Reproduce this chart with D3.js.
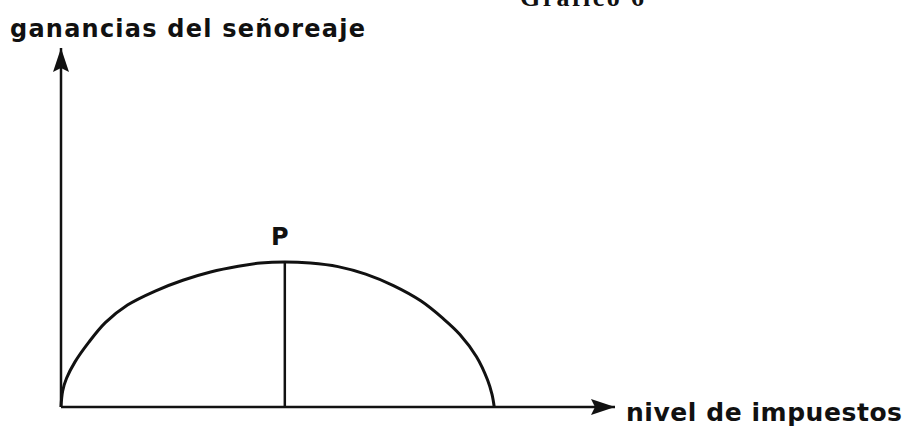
<!DOCTYPE html>
<html>
<head>
<meta charset="utf-8">
<script src="https://cdn.jsdelivr.net/npm/d3@7"></script>
<style>
  body { margin: 0; background: #fff; }
  text { font-family: "DejaVu Sans", "Liberation Sans", Arial, sans-serif; fill: #111; }
</style>
</head>
<body>
<div id="chart"></div>
<script>
// curve: tax level (x) vs seigniorage gains (y), 0..100 units
const taxLevel = [0, 0.3, 1, 2.5, 5, 8, 12, 17, 22, 27, 32, 36, 40.4,
                  45, 50, 55, 60, 65, 69, 72, 75, 77, 77.8, 78.2];
const gains = [0, 4.5, 8, 12.5, 18, 23.5, 28.4, 32.3, 35.3, 37.6, 39.2, 40.1, 40.4,
               40.1, 39.1, 37.0, 33.8, 29.5, 24.6, 20.2, 14.0, 7.5, 3.5, 0];
const peak = {x: 40.4, y: 40.4, label: "P"};
const labels = {
  title: "Gráfico 6",
  yAxis: "ganancias del señoreaje",
  xAxis: "nivel de impuestos"
};

const width = 906, height = 426;

const svg = d3.select("#chart").append("svg")
    .attr("width", width)
    .attr("height", height);

const x = d3.scaleLinear().domain([0, 100]).range([61, 615]);
const y = d3.scaleLinear().domain([0, 100]).range([407, 48]);

// arrow heads
const defs = svg.append("defs");
defs.append("marker")
    .attr("id", "arrow")
    .attr("viewBox", "0 0 24 16")
    .attr("refX", 24)
    .attr("refY", 8)
    .attr("markerWidth", 24)
    .attr("markerHeight", 16)
    .attr("markerUnits", "userSpaceOnUse")
    .attr("orient", "auto")
  .append("path")
    .attr("d", "M0,0 L24,8 L0,16 L4,8 Z")
    .attr("fill", "#111");

// axes
svg.append("line")
    .attr("x1", x(0)).attr("y1", y(0))
    .attr("x2", x(0)).attr("y2", y(100))
    .attr("stroke", "#111")
    .attr("stroke-width", 2.5)
    .attr("marker-end", "url(#arrow)");

svg.append("line")
    .attr("x1", x(0)).attr("y1", y(0))
    .attr("x2", x(100)).attr("y2", y(0))
    .attr("stroke", "#111")
    .attr("stroke-width", 2.5)
    .attr("marker-end", "url(#arrow)");

// the curve
const line = d3.line()
    .x((d, i) => x(taxLevel[i]))
    .y(d => y(d))
    .curve(d3.curveCatmullRom.alpha(0.5));

svg.append("path")
    .datum(gains)
    .attr("d", line)
    .attr("fill", "none")
    .attr("stroke", "#111")
    .attr("stroke-width", 3);

// vertical through the maximum
svg.append("line")
    .attr("x1", x(peak.x)).attr("y1", y(0))
    .attr("x2", x(peak.x)).attr("y2", y(peak.y))
    .attr("stroke", "#111")
    .attr("stroke-width", 2.5);

svg.append("text")
    .attr("x", x(peak.x) - 5)
    .attr("y", y(peak.y) - 17)
    .attr("text-anchor", "middle")
    .attr("font-size", 24)
    .attr("font-weight", "bold")
    .text(peak.label);

// labels
svg.append("text")
    .attr("x", 10)
    .attr("y", 37)
    .attr("font-size", 24)
    .attr("font-weight", "bold")
    .attr("textLength", 355)
    .attr("lengthAdjust", "spacing")
    .text(labels.yAxis);

svg.append("text")
    .attr("x", 626)
    .attr("y", 421)
    .attr("font-size", 25)
    .attr("font-weight", "bold")
    .attr("textLength", 276)
    .attr("lengthAdjust", "spacing")
    .text(labels.xAxis);

// title is cut off by the top edge in the source picture
svg.append("text")
    .attr("x", 520)
    .attr("y", 6)
    .attr("font-size", 26)
    .attr("font-weight", "bold")
    .attr("textLength", 124)
    .attr("lengthAdjust", "spacing")
    .style("font-family", "'Liberation Serif', 'Times New Roman', serif")
    .text(labels.title);
</script>
</body>
</html>
